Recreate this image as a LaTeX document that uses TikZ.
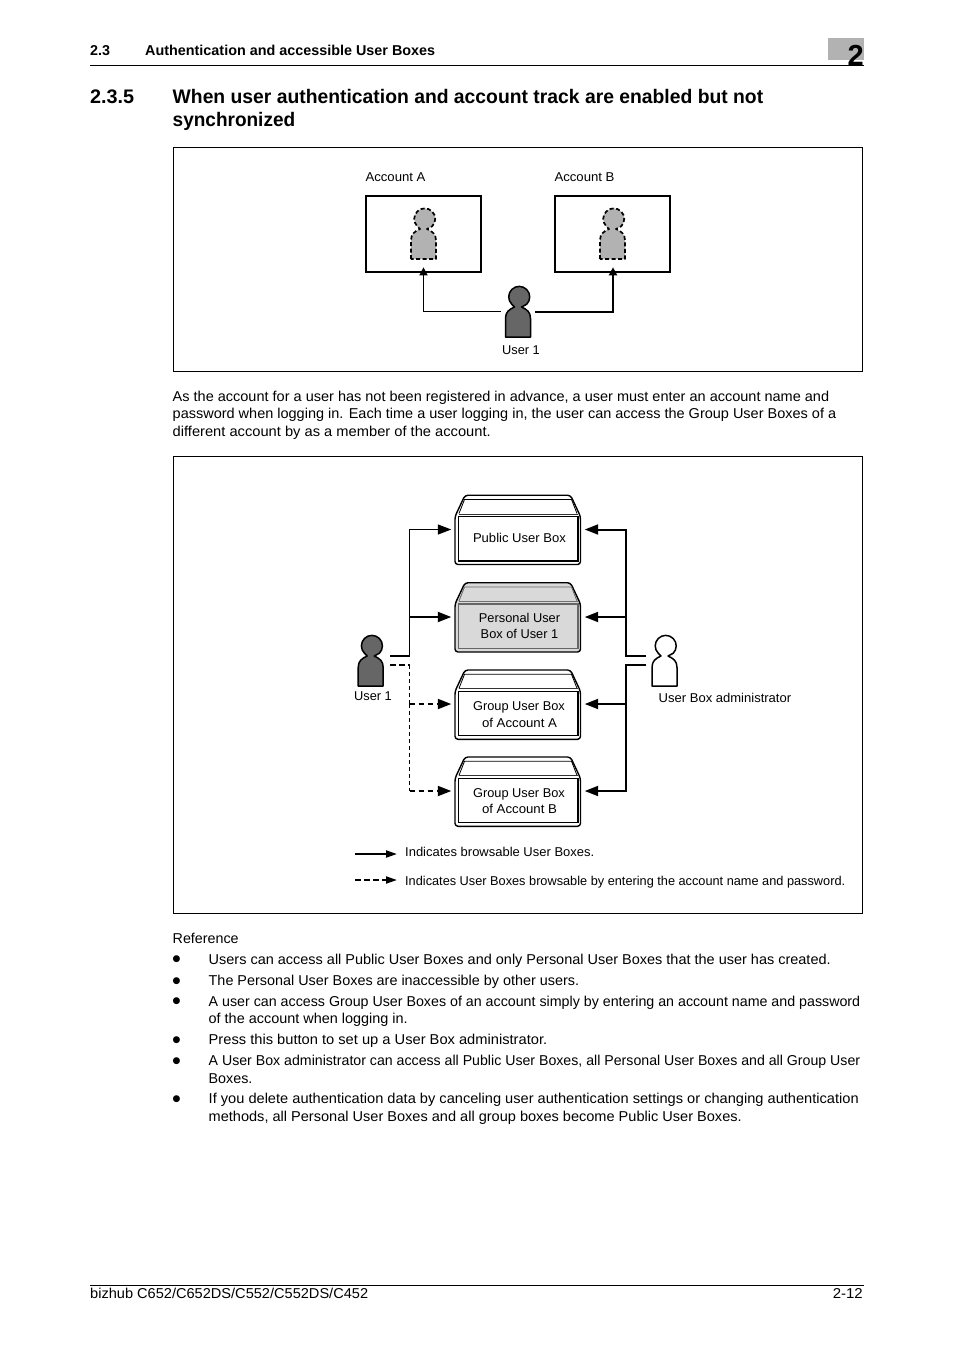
\documentclass[tikz,border=0pt]{standalone}
\usepackage{fontspec}
\usepackage{graphicx}
\setmainfont{Liberation Sans}
\newfontfamily\symfont{DejaVu Sans}
\usetikzlibrary{arrows.meta}
\definecolor{pgray}{HTML}{B2B2B2}
\definecolor{dgray}{HTML}{666666}
\definecolor{lgray}{HTML}{D9D9D9}
\newcommand\fw[2]{\resizebox{#1pt}{\height}{#2}}
\tikzset{
  x=1pt,y=1pt,
  body/.style={anchor=base west,inner sep=0pt,font=\fontsize{14.3}{16}\selectfont},
  head/.style={anchor=base west,inner sep=0pt,font=\bfseries\fontsize{14.3}{16}\selectfont},
  title/.style={anchor=base west,inner sep=0pt,font=\bfseries\fontsize{19.6}{24}\selectfont},
  dia/.style={anchor=base,inner sep=0pt,font=\fontsize{12.8}{15}\selectfont},
  diaw/.style={anchor=base west,inner sep=0pt,font=\fontsize{12.8}{15}\selectfont},
  frame/.style={draw,line width=1pt,fill=white},
  acct/.style={draw,line width=1.6pt,inner sep=0pt,minimum width=115pt,minimum height=76pt},
  ubox/.style={inner sep=0pt,minimum width=126pt,minimum height=70pt},
  cn/.style={line width=1.3pt},
  cnk/.style={line width=2pt},
  dsh/.style={line width=1.3pt,dash pattern=on 4pt off 3pt},
  dshk/.style={line width=1.9pt,dash pattern=on 5.5pt off 3.5pt},
  tipA/.style={-{Triangle[length=8pt,width=8pt]}},
  tipB/.style={-{Triangle[length=13.5pt,width=10pt]}},
  tipC/.style={-{Triangle[length=11pt,width=7pt]}},
}
\newcommand\person[4]{% cx, top, fill, line style
  \begin{scope}[shift={(#1,-#2)}]
    \draw[fill=#3,line width=1.5pt,#4,line join=round]
      (-12.5,-51.5) -- (-12.5,-33) .. controls (-12.5,-26.5) and (-9,-24) .. (-3.5,-21.5)
      -- (-6.2,-18.8) arc[start angle=225,end angle=-45,radius=10.5]
      -- (3.5,-21.5) .. controls (9,-24) and (12.5,-26.5) .. (12.5,-33)
      -- (12.5,-51.5) -- cycle;
  \end{scope}
}
\newcommand\userbox[3]{% top y, face fill, inner line colour
  \begin{scope}[shift={(455,-#1)}]
    \draw[fill=#2,line width=1.4pt,line join=round,rounded corners=3pt]
      (0,-21) -- (10,0.3) -- (115.5,0.3) -- (125.5,-21) -- (125.5,-69) -- (0,-69) -- cycle;
    \draw[#3,line width=0.8pt] (4,-18) -- (9.5,-4) -- (116.5,-4) -- (122,-18);
    \draw[#3!60!gray,line width=0.8pt] (3.5,-18.5) -- (122.5,-18.5);
    \draw[#3,line width=1.1pt] (3.5,-21) rectangle (123,-65.5);
  \end{scope}
}
\begin{document}
\begin{tikzpicture}
\useasboundingbox (0,0) rectangle (954,-1350);
\fill[white] (0,0) rectangle (954,-1350);
% page header
\fill[pgray] (828,-38) rectangle (863.5,-60);
\node[inner sep=0pt,anchor=base east,font=\bfseries\fontsize{29}{30}\selectfont] (chap) at (864,-65) {2};
\draw[line width=0.9pt] (90,-65.6) -- (863.5,-65.6);
\node[head] (hnum) at (90,-55) {2.3};
\node[head] (htxt) at (145,-55) {\fw{290}{Authentication and accessible User Boxes}};
% section title
\node[title] (snum) at (90,-103) {\fw{44}{2.3.5}};
\node[title] (st1) at (172.5,-103) {\fw{590.5}{When user authentication and account track are enabled but not}};
\node[title] (st2) at (172.5,-126) {\fw{122.5}{synchronized}};
% top figure
\draw[frame] (173,-147.8) rectangle (862.5,-371.5);
\node[dia] (la) at (395.5,-181) {\fw{60}{Account A}};
\node[dia] (lb) at (584.5,-181) {\fw{60}{Account B}};
\node[acct] (aa) at (423.5,-234) {};
\node[acct] (ab) at (612.5,-234) {};
\person{423.5}{207.5}{pgray}{dash pattern=on 4pt off 2.5pt,line width=1.7pt}
\person{612.5}{207.5}{pgray}{dash pattern=on 4pt off 2.5pt,line width=1.7pt}
\person{518}{285.5}{dgray}{}
\node[dia] (u1a) at (521,-354) {User 1};
\coordinate (ua) at (501,-311.5);
\coordinate (ub) at (535,-311.5);
\draw[cn,tipA] (ua) -| ([yshift=5.5pt]aa.south);
\draw[cnk,tipA] (ub) -- ++(78,0) -- ([yshift=5.5pt,xshift=0.5pt]ab.south);
% paragraph
\node[body] (p1) at (172.5,-401) {\fw{656.5}{As the account for a user has not been registered in advance, a user must enter an account name and}};
\node[body] (p2) at (172.5,-418.5) {\fw{663.5}{password when logging in. Each time a user logging in, the user can access the Group User Boxes of a}};
\node[body] (p3) at (172.5,-436) {\fw{318}{different account by as a member of the account.}};
% lower figure
\draw[frame] (173,-456.6) rectangle (862.5,-913.5);
\userbox{495.5}{white}{black}
\userbox{583}{lgray}{dgray}
\userbox{670.3}{white}{black}
\userbox{757.3}{white}{black}
\node[ubox] (bpub) at (518,-529.5) {};
\node[ubox] (bper) at (518,-617) {};
\node[ubox] (bga) at (518,-704) {};
\node[ubox] (bgb) at (518,-791) {};
\node[dia] (t1) at (519.5,-542) {\fw{93}{Public User Box}};
\node[dia] (t2a) at (519.5,-622) {Personal User};
\node[dia] (t2b) at (519.5,-638) {Box of User 1};
\node[dia] (t3a) at (519,-710) {Group User Box};
\node[dia] (t3b) at (519.5,-727) {\fw{75}{of Account A}};
\node[dia] (t4a) at (519,-797) {Group User Box};
\node[dia] (t4b) at (519.5,-813) {\fw{75}{of Account B}};
\person{370.7}{634.5}{dgray}{}
\person{664.5}{634.5}{white}{}
\node[dia] (lu1) at (373,-700) {User 1};
\node[diaw] (ladm) at (658.5,-702) {\fw{132.5}{User Box administrator}};
% connectors, user 1
\coordinate (us) at (390,-656);
\coordinate (ud) at (390,-665);
\coordinate (j1) at (409.5,-617);
\coordinate (j2) at (409.5,-704);
\draw[cnk] (us) -- (409.5,-656);
\draw[cn] (409.5,-656) -- (j1);
\draw[cn,tipB] (j1) |- ([xshift=-3.5pt]bpub.west);
\draw[cnk,tipB] (j1) -- ([xshift=-3.5pt]bper.west);
\draw[dshk] (ud) -- (409.5,-665);
\draw[dsh] (409.5,-665) -- (j2);
\draw[dshk,tipB] (j2) -- ([xshift=-3.5pt]bga.west);
\draw[dsh] (j2) -- (409.5,-791);
\draw[dshk,tipB] (409.5,-791) -- ([xshift=-3.5pt]bgb.west);
% connectors, administrator
\coordinate (as) at (646,-656);
\coordinate (ad) at (646,-665);
\coordinate (k1) at (626,-617);
\coordinate (k2) at (626,-704);
\draw[cnk] (as) -- (626,-656) -- (k1);
\draw[cnk,tipB] (k1) |- ([xshift=3.5pt]bpub.east);
\draw[cnk,tipB] (k1) -- ([xshift=3.5pt]bper.east);
\draw[cnk] (ad) -- (626,-665) -- (k2);
\draw[cnk,tipB] (k2) -- ([xshift=3.5pt]bga.east);
\draw[cnk,tipB] (k2) |- ([xshift=3.5pt]bgb.east);
% legend
\coordinate (l1a) at (355,-854);
\coordinate (l1b) at (397,-854);
\coordinate (l2a) at (355,-880);
\coordinate (l2b) at (397,-880);
\draw[cnk,tipC] (l1a) -- (l1b);
\draw[dshk,tipC] (l2a) -- (l2b);
\node[diaw] (lg1) at (405,-856) {\fw{189}{Indicates browsable User Boxes.}};
\node[diaw] (lg2) at (405,-885) {\fw{440}{Indicates User Boxes browsable by entering the account name and password.}};
% reference list
\node[body] (ref) at (172.5,-943) {Reference};
\foreach \n/\y in {a/961.5,b/983,c/1003.5,d/1042,e/1063,f/1101}{
  \node[anchor=base west,inner sep=0pt,font=\symfont\fontsize{9}{10}\selectfont] (bu\n) at (172.5,-\y) {●};
}
\node[body] (r1) at (208.5,-964) {\fw{622}{Users can access all Public User Boxes and only Personal User Boxes that the user has created.}};
\node[body] (r2) at (208.5,-985) {\fw{370.5}{The Personal User Boxes are inaccessible by other users.}};
\node[body] (r3a) at (208.5,-1006) {\fw{651.5}{A user can access Group User Boxes of an account simply by entering an account name and password}};
\node[body] (r3b) at (208.5,-1023.5) {\fw{199}{of the account when logging in.}};
\node[body] (r4) at (208.5,-1044) {\fw{338.5}{Press this button to set up a User Box administrator.}};
\node[body] (r5a) at (208.5,-1065) {\fw{651.5}{A User Box administrator can access all Public User Boxes, all Personal User Boxes and all Group User}};
\node[body] (r5b) at (208.5,-1083) {Boxes.};
\node[body] (r6a) at (208.5,-1103) {\fw{650}{If you delete authentication data by canceling user authentication settings or changing authentication}};
\node[body] (r6b) at (208.5,-1121) {\fw{533}{methods, all Personal User Boxes and all group boxes become Public User Boxes.}};
% footer
\draw[line width=0.9pt] (90,-1285) -- (863.5,-1285);
\node[body] (fl) at (90,-1298.5) {\fw{278}{bizhub C652/C652DS/C552/C552DS/C452}};
\node[inner sep=0pt,anchor=base east,font=\fontsize{14.3}{16}\selectfont] (fr) at (863,-1298.5) {\fw{30}{2-12}};
\end{tikzpicture}
\end{document}
